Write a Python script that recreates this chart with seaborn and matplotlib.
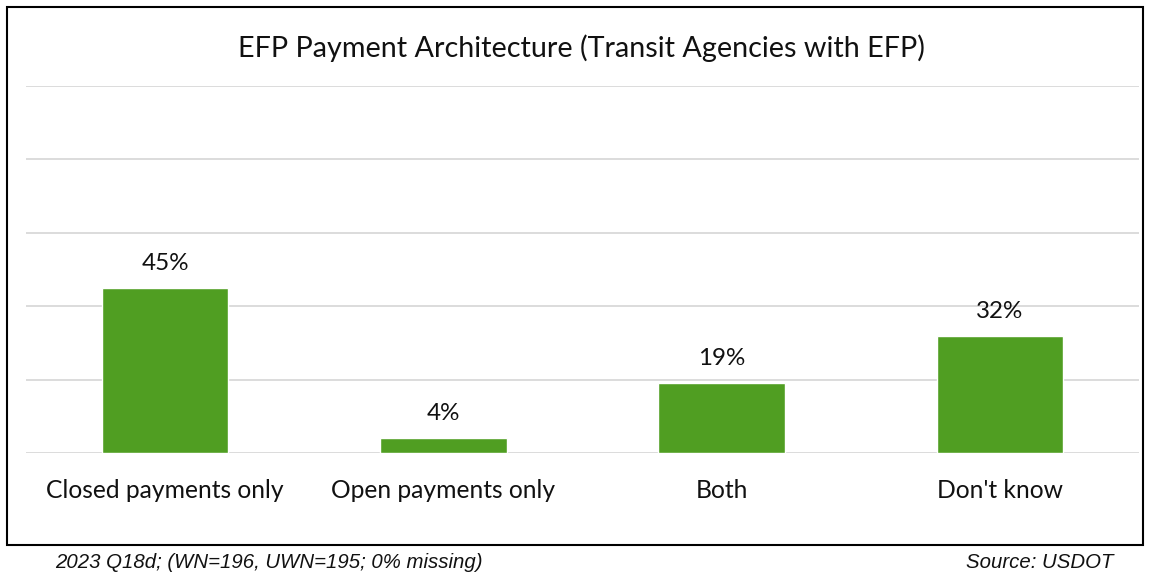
import matplotlib
matplotlib.use("Agg")
import matplotlib.pyplot as plt
import seaborn as sns
import pandas as pd
from matplotlib.patches import Rectangle

# Survey responses: payment architecture among transit agencies with EFP
categories = ["Closed payments only", "Open payments only", "Both", "Don't know"]
shares = [45, 4, 19, 32]
value_labels = ["45%", "4%", "19%", "32%"]
y_ticks = [0, 20, 40, 60, 80, 100]

title = "EFP Payment Architecture (Transit Agencies with EFP)"
footnote_left = "2023 Q18d; (WN=196, UWN=195; 0% missing)"
footnote_right = "Source: USDOT"

bar_color = "#509E22"
grid_color = "#D9D9D9"
main_font = "Lato"

sns.set_theme(style="white")
plt.rcParams["font.family"] = [main_font, "DejaVu Sans"]

df = pd.DataFrame({"category": categories, "share": shares})

W, H = 1151, 576
fig = plt.figure(figsize=(W / 100, H / 100), dpi=100)

# outer frame around the chart area
fig.patches.append(Rectangle((7 / W, 1 - 545 / H), (1143 - 7) / W, (545 - 7) / H,
                             transform=fig.transFigure, fill=False,
                             edgecolor="black", linewidth=1.5, zorder=0))

ax = fig.add_axes([26 / W, 1 - 453 / H, (1139 - 26) / W, (453 - 86) / H])
sns.barplot(data=df, x="category", y="share", color=bar_color, width=0.455,
            saturation=1, ax=ax, zorder=3)

ax.set_ylim(0, 100)
ax.set_xlim(-0.5, len(categories) - 0.5)
ax.set_yticks(y_ticks)
ax.yaxis.grid(True, color=grid_color, linewidth=1.3)
ax.set_axisbelow(True)
ax.tick_params(axis="y", left=False, labelleft=False)
ax.tick_params(axis="x", bottom=False, pad=13, labelsize=17.7, labelcolor="#111111")
for s in ax.spines.values():
    s.set_visible(False)
ax.set_xlabel("")
ax.set_ylabel("")

for i, (v, lab) in enumerate(zip(shares, value_labels)):
    ax.annotate(lab, (i, v), xytext=(0, 10), textcoords="offset points",
                ha="center", va="bottom", fontsize=17.4, color="#111111")

fig.text(581 / W, 1 - 48 / H, title, ha="center", va="center",
         fontsize=20.7, color="#111111")

fig.text(55 / W, 1 - 563 / H, footnote_left, ha="left", va="center",
         fontsize=14.7, style="italic", family=["Liberation Sans", "DejaVu Sans"],
         color="#111111")
fig.text(1113 / W, 1 - 563 / H, footnote_right, ha="right", va="center",
         fontsize=14.7, style="italic", family=["Liberation Sans", "DejaVu Sans"],
         color="#111111")

fig.savefig("out.png", dpi=100, facecolor="white")
